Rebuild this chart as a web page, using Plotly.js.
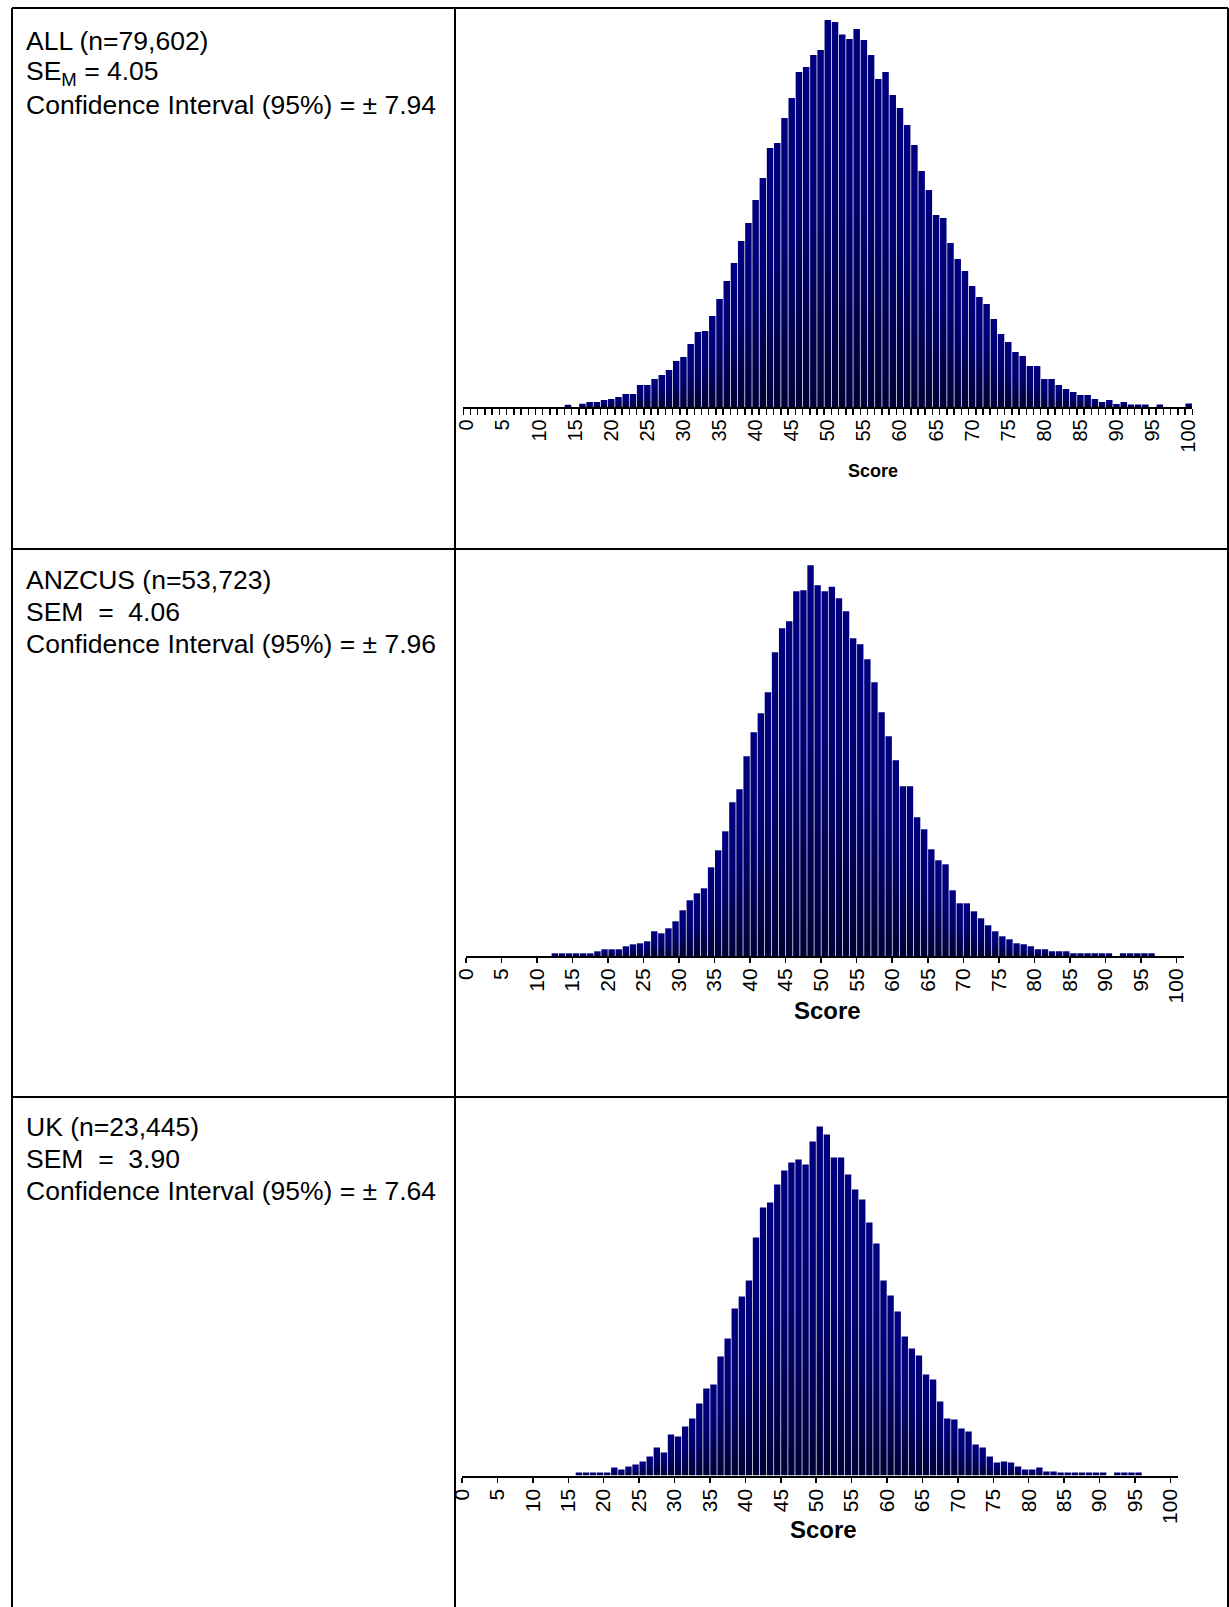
<!DOCTYPE html>
<html>
<head>
<meta charset="utf-8">
<script src="https://cdn.plot.ly/plotly-3.0.1.min.js"></script>
<style>
  html, body { margin: 0; padding: 0; background: #fff; }
  #chart { width: 1229px; height: 1607px; }
</style>
</head>
<body>
<div id="chart"></div>
<script>
// ---------------- DATA (relative frequency per score) ----------------
var scores = [];
for (var s = 0; s <= 100; s++) scores.push(s);

var tickLabels = ["0","5","10","15","20","25","30","35","40","45","50",
                  "55","60","65","70","75","80","85","90","95","100"];
var tickValues = [0,5,10,15,20,25,30,35,40,45,50,55,60,65,70,75,80,85,90,95,100];

// ALL (n=79,602)
var freqAll = [
  0,0,0,0,0,0,0,0,0,0,            // 0-9
  0,0,0,0,2.5,0,3.5,5.3,5.3,7.3,  // 10-19
  8.3,10.3,13.3,13.3,22.3,22.3,28.3,32.3,37.3,46.3,      // 20-29
  50.3,63.3,75.3,76.3,91.3,108.3,126.3,144.3,166.3,184.3, // 30-39
  207.3,229.3,259.3,264.3,289.3,309.3,335.3,340.3,352.3,357.3, // 40-49
  387.3,385.3,372.7,368.3,378.3,367.3,352.3,328.3,335.3,312.3, // 50-59
  299.3,282.3,262.3,236.3,217.3,192.3,189.3,164.3,148.3,136.3, // 60-69
  121.3,110.3,103.3,88.3,73.3,65.3,55.3,51.3,41.3,41.3,        // 70-79
  28.3,28.3,22.3,18.3,15.3,12.3,12.3,8.3,5.3,7.3,              // 80-89
  3.3,5.3,2.7,2.7,2.7,0,2.7,0,0,0,                             // 90-99
  3.7                                                          // 100
];

// ANZCUS (n=53,723)
var freqAnzcus = [
  0,0,0,0,0,0,0,0,0,0,
  0,0,2.7,2.7,2.7,2.7,2.7,2.7,4.7,6.7,
  6.7,6.7,9.7,11.7,12.7,14.7,24.7,22.7,27.7,34.7,
  45.7,55.7,62.7,67.7,88.7,105.7,124.7,153.7,166.7,199.7,
  223.7,242.7,263.7,303.7,327.7,334.7,364.7,365.7,390.7,370.7,
  364.7,369.3,357.7,344.7,317.7,311.7,296.7,273.7,243.7,219.7,
  195.7,169.7,169.7,138.7,126.7,106.7,95.7,91.7,65.7,52.7,
  52.7,44.7,37.7,30.7,24.7,19.7,16.7,12.7,11.7,9.7,
  6.7,6.7,4.7,4.7,4.7,2.7,2.7,2.7,2.7,2.7,
  2.7,0,2.7,2.7,2.7,2.7,2.7,0,0,0,
  0
];

// UK (n=23,445)
var freqUk = [
  0,0,0,0,0,0,0,0,0,0,
  0,0,0,0,0,0,3,3,3,3,
  3,8,6,9,11,14,19,28,23,41,
  39,49,57,72,87,91,119,137,167,179,
  195,238,268,273,291,305,313,316,311,334,
  349,341,318,318,301,286,276,253,232,195,
  180,164,139,127,120,101,96,74,57,56,
  47,44,31,28,19,13,14,13,9,6,
  6,8,4,4,3,3,3,3,3,3,
  3,0,3,3,3,3,0,0,0,0,
  0
];

var groupLines = [
  ["ALL (n=79,602)", "SE<sub>M</sub> = 4.05", "Confidence Interval (95%) = \u00B1 7.94"],
  ["ANZCUS (n=53,723)", "SEM \u00A0=\u00A0 4.06", "Confidence Interval (95%) = \u00B1 7.96"],
  ["UK (n=23,445)", "SEM \u00A0=\u00A0 3.90", "Confidence Interval (95%) = \u00B1 7.64"]
];
var axisTitle = "Score";

// ---------------- LAYOUT helpers (pixel -> paper) ----------------
var W = 1229, H = 1607;
function px(x) { return x / W; }
function py(y) { return 1 - y / H; }

var FONT = "Liberation Sans, Arial, sans-serif";
var barColor = "#000066";

// bins for the 2nd and 3rd charts sit between score ticks [s, s+1)
var binCenters = scores.map(function (v) { return v + 0.5; });

var data = [
  { type: "bar", x: scores, y: freqAll, xaxis: "x", yaxis: "y",
    marker: { color: barColor, line: { width: 0 } }, hoverinfo: "skip" },
  { type: "bar", x: binCenters, y: freqAnzcus, xaxis: "x2", yaxis: "y2",
    marker: { color: barColor, line: { width: 0 } }, hoverinfo: "skip" },
  { type: "bar", x: binCenters, y: freqUk, xaxis: "x3", yaxis: "y3",
    marker: { color: barColor, line: { width: 0 } }, hoverinfo: "skip" }
];

var YR = 395;
function xAxisBase(extra) {
  var a = {
    showline: true, linecolor: "#000", linewidth: 2,
    showgrid: false, zeroline: false, fixedrange: true,
    tickmode: "array", tickvals: tickValues, ticktext: tickLabels,
    tickangle: -90, tickfont: { family: FONT, size: 21, color: "#000" },
    ticks: "outside", ticklen: 5, tickwidth: 1.5, tickcolor: "#000"
  };
  for (var k in extra) a[k] = extra[k];
  return a;
}
function yAxisBase(top, bottom) {
  return { domain: [py(bottom), py(top)], range: [0, YR], visible: false, fixedrange: true };
}

var layout = {
  width: W, height: H,
  margin: { l: 0, r: 0, t: 0, b: 0 },
  paper_bgcolor: "#fff", plot_bgcolor: "rgba(0,0,0,0)",
  showlegend: false, bargap: 0.1,
  font: { family: FONT, color: "#000" },
  xaxis: xAxisBase({
    domain: [px(463.3), px(1192.3)], range: [-0.5, 100.5], anchor: "y",
    ticks: "", ticklabelstandoff: 2, tickfont: { family: FONT, size: 20, color: "#000" },
    minor: { ticks: "outside", tick0: -0.5, dtick: 1, ticklen: 6, tickwidth: 1.5, tickcolor: "#000", showgrid: false }
  }),
  yaxis: yAxisBase(407.3 - YR, 407.3),
  xaxis2: xAxisBase({ domain: [px(466), px(1183.5)], range: [0, 101], anchor: "y2", ticklabelstandoff: -3 }),
  yaxis2: yAxisBase(956 - YR, 956),
  xaxis3: xAxisBase({ domain: [px(462), px(1177.5)], range: [0, 101], anchor: "y3", ticklabelstandoff: -2 }),
  yaxis3: yAxisBase(1475.5 - YR, 1475.5),
  shapes: [],
  annotations: []
};

// table borders
var lineStyle = { color: "#000", width: 2 };
function hline(y, x0, x1) {
  layout.shapes.push({ type: "line", xref: "paper", yref: "paper", x0: px(x0), x1: px(x1), y0: py(y), y1: py(y), line: lineStyle });
}
function vline(x, y0, y1) {
  layout.shapes.push({ type: "line", xref: "paper", yref: "paper", x0: px(x), x1: px(x), y0: py(y0), y1: py(y1), line: lineStyle });
}
hline(8, 12, 1228);
hline(549, 12, 1228);
hline(1097, 12, 1228);
vline(12, 8, 1607);
vline(455, 8, 1607);
vline(1228, 8, 1607);

// row texts
var rowTops = [41, 580, 1127];
var lineGap = 32;
groupLines.forEach(function (lines, r) {
  lines.forEach(function (t, i) {
    layout.annotations.push({
      xref: "paper", yref: "paper", x: px(24), y: py(rowTops[r] + i * lineGap),
      xanchor: "left", yanchor: "middle", showarrow: false, align: "left",
      text: t, font: { family: FONT, size: 26.5, color: "#000" }
    });
  });
});

// axis titles ("Score")
[[873, 471, 18], [827, 1010, 24], [823, 1529, 24]].forEach(function (p) {
  layout.annotations.push({
    xref: "paper", yref: "paper", x: px(p[0]), y: py(p[1]),
    xanchor: "center", yanchor: "middle", showarrow: false,
    text: "<b>" + axisTitle + "</b>", font: { family: FONT, size: p[2], color: "#000" }
  });
});

Plotly.newPlot("chart", data, layout, { staticPlot: true, displayModeBar: false }).then(function (gd) {
  // vertical gradient fill on every bar (navy at top, darker at the base)
  var ns = "http://www.w3.org/2000/svg";
  var svg = gd.querySelector("svg.main-svg");
  var defs = svg.querySelector("defs") || svg.insertBefore(document.createElementNS(ns, "defs"), svg.firstChild);
  var lg = document.createElementNS(ns, "linearGradient");
  lg.setAttribute("id", "barGrad");
  lg.setAttribute("x1", "0"); lg.setAttribute("y1", "0");
  lg.setAttribute("x2", "0"); lg.setAttribute("y2", "1");
  [["0", "#000080"], ["0.45", "#000072"], ["1", "#000036"]].forEach(function (st) {
    var s = document.createElementNS(ns, "stop");
    s.setAttribute("offset", st[0]); s.setAttribute("stop-color", st[1]);
    lg.appendChild(s);
  });
  defs.appendChild(lg);
  gd.querySelectorAll(".barlayer .point path").forEach(function (p) {
    p.style.fill = "url(#barGrad)";
  });
});
</script>
</body>
</html>
